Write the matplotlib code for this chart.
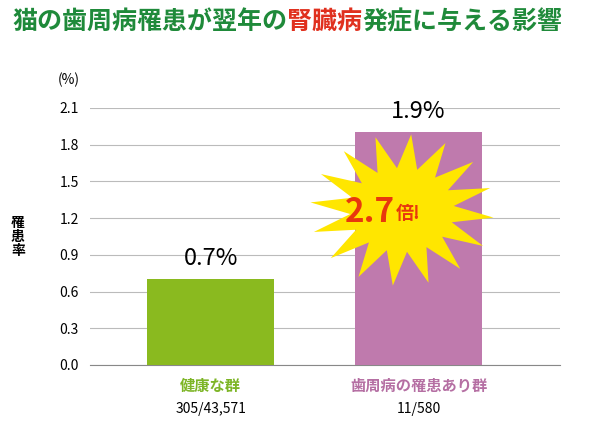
import numpy as np
import matplotlib.pyplot as plt
from matplotlib.patches import Polygon

plt.rcParams['font.family'] = ['Noto Sans CJK JP', 'DejaVu Sans']

groups = ['健康な群', '歯周病の罹患あり群']
counts = ['305/43,571', '11/580']
rates = [0.7, 1.9]
rate_labels = ['0.7%', '1.9%']
yticks = [0.0, 0.3, 0.6, 0.9, 1.2, 1.5, 1.8, 2.1]
bar_colors = ['#8aba1f', '#bf7aad']
label_colors = ['#7db526', '#b56fa3']

W, H = 610, 430
fig = plt.figure(figsize=(W / 100, H / 100), dpi=100)
ax = fig.add_axes([90 / W, 1 - 365 / H, 470 / W, (365 - 108) / H])

x = np.arange(len(rates))
ax.bar(x, rates, width=0.61, color=bar_colors, zorder=3)
ax.set_xlim(-0.58, 1.68)
ax.set_ylim(0, 2.1)
ax.set_yticks(yticks)
ax.set_yticklabels([f'{v:.1f}' for v in yticks], fontsize=10)
ax.set_xticks([])
ax.grid(axis='y', color='#bbbbbb', lw=0.8, zorder=0)
for s in ['top', 'right', 'left']:
    ax.spines[s].set_visible(False)
ax.spines['bottom'].set_color('#888888')
ax.tick_params(axis='y', length=0, pad=8)

for xi, r, lab in zip(x, rates, rate_labels):
    ax.text(xi, r + 0.08, lab, ha='center', va='bottom', fontsize=17)
for xi, g, c, col in zip(x, groups, counts, label_colors):
    ax.text(xi, -0.17, g, ha='center', va='center', fontsize=11,
            fontweight='bold', color=col)
    ax.text(xi, -0.36, c, ha='center', va='center', fontsize=10)

fig.text(80 / W, 1 - 80 / H, '(%)', ha='right', va='center', fontsize=10)
fig.text(18 / W, 1 - 237 / H, '罹\n患\n率', ha='center', va='center',
         fontsize=10, fontweight='bold', linespacing=1.0)

# title
ty = 1 - 22 / H
t1 = fig.text(12 / W, ty, '猫の歯周病罹患が翌年の', fontsize=18,
              fontweight='bold', color='#1f8a3a', va='center')
fig.canvas.draw()
bb = t1.get_window_extent()
t2 = fig.text(bb.x1 / W, ty, '腎臓病', fontsize=18,
              fontweight='bold', color='#e0301e', va='center')
bb2 = t2.get_window_extent()
fig.text(bb2.x1 / W, ty, '発症に与える影響', fontsize=18,
         fontweight='bold', color='#1f8a3a', va='center')

# starburst
cx, cy = 402, 210
n = 16
ang = np.linspace(0, 2 * np.pi, 2 * n, endpoint=False) + 0.1
rx = np.where(np.arange(2 * n) % 2 == 0, 92, 52)
ry = np.where(np.arange(2 * n) % 2 == 0, 76, 42)
px = cx + rx * np.cos(ang)
py = cy + ry * np.sin(ang)
pts = np.column_stack([px / W, 1 - py / H])
fig.add_artist(Polygon(pts, closed=True, facecolor='#ffe600',
                       edgecolor='none', transform=fig.transFigure, zorder=5))
fig.text(395 / W, 1 - 212 / H, '2.7', fontsize=24, fontweight='bold',
         color='#e8380d', ha='right', va='center', zorder=6)
fig.text(396 / W, 1 - 214 / H, '倍!', fontsize=13, fontweight='bold',
         color='#e8380d', ha='left', va='center', zorder=6)

fig.savefig('out.png', dpi=100)
